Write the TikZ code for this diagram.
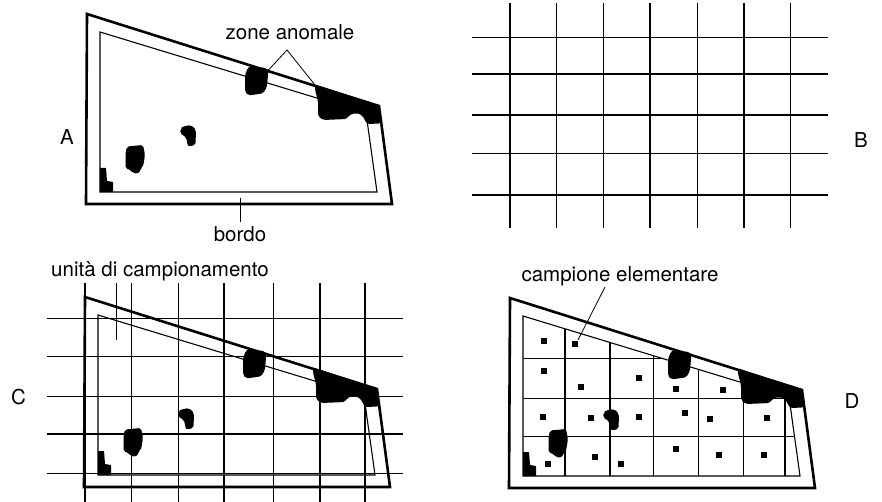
\documentclass[tikz,border=0pt]{standalone}
\usepackage{fontspec}
\setmainfont{TeX Gyre Heros}
\newcommand\drawfieldshape{%
  % outer and inner boundaries
  \draw[outerline] (87,14) -- (379,106) -- (392,204) -- (86,204) -- cycle;
  \draw[innerline] (100,32) -- (366,113) -- (377,192) -- (100,192) -- cycle;
  % anomalous zones
  \fill[blob] (250,66.7) -- (266.7,68) -- (268.3,71) -- (267,86.7) -- (263.3,93.3) -- (248.3,95.5) -- (245,91.7) -- (245,75) -- (248,67.5) -- cycle;
  \fill[blob] (315,84.5) -- (379,105.5) -- (380.5,123.5) -- (367,124) -- (362,115) -- (356,113) -- (349,115) -- (347,119) -- (323,120) -- (318,116) -- (318,101) -- (315,90) -- cycle;
  \fill[blob] (181,128) -- (183,126.5) -- (191,125) -- (196,130) -- (195.5,145) -- (188,146.5) -- (186,137) -- (180,133.5) -- cycle;
  \fill[blob] (127,146.5) -- (143,145) -- (145,155) -- (143,167) -- (140,168.5) -- (140,173) -- (133,173.5) -- (131,170) -- (125.5,168.5) -- (125.5,153) -- cycle;
  \fill[blob,rounded corners=0.5pt] (100,168) -- (106,168) -- (107,181) -- (113,182) -- (113,192) -- (100,192) -- cycle;
}
\begin{document}
\begin{tikzpicture}[x=1pt,y=-1pt,
  outerline/.style={line width=2.6pt,line join=miter},
  innerline/.style={line width=1.1pt},
  gridline/.style={line width=1.4pt},
  blob/.style={fill=black,rounded corners=2pt},
  pointer/.style={line width=0.8pt},
  lbl/.style={font=\fontsize{20.5}{24}\selectfont,inner sep=0pt},
  sq/.style={fill=black}]
\useasboundingbox (0,0) rectangle (882,502);

% ---------------- Panel A ----------------
\drawfieldshape
\node[lbl,anchor=base] (zone) at (290,40) {zone anomale};
\coordinate (zapex) at (287,50);
\coordinate (zleft) at (268.5,70);
\coordinate (zright) at (315,85);
\draw[pointer] (zleft) -- (zapex) -- (zright);
\node[lbl,anchor=base] (bordo) at (240,241.5) {bordo};
\coordinate (bordotop) at (240,198);
\coordinate (bordobot) at (240,222);
\draw[pointer] (bordotop) -- (bordobot);
\node[lbl] (labA) at (67,137) {A};

% ---------------- Panel B ----------------
\foreach \x in {510,556.7,603.3,650,697.7,744,790.7}
  \draw[gridline] (\x,3) -- (\x,228);
\foreach \y in {37.7,74,115,153.3,195}
  \draw[gridline] (471.7,\y) -- (828,\y);
\node[lbl] (labB) at (861,140) {B};

% ---------------- Panel C ----------------
\begin{scope}[shift={(-2,283)}]
  \drawfieldshape
\end{scope}
\foreach \x in {85,131.7,178.3,224,273.3,320,365}
  \draw[gridline] (\x,283) -- (\x,502);
\foreach \y in {318.3,356.7,396.7,434,473.3}
  \draw[gridline] (46.7,\y) -- (403,\y);
\node[lbl,anchor=base] (unita) at (160,276.5) {unità di campionamento};
\coordinate (utop) at (116.7,283);
\coordinate (ubot) at (116.7,340);
\draw[pointer] (utop) -- (ubot);
\node[lbl] (labC) at (18.5,397) {C};

% ---------------- Panel D ----------------
\begin{scope}
  \clip (523,316) -- (789,397) -- (800,476) -- (523,476) -- cycle;
  \foreach \x in {565,610,653.3,698.3,743.3,785}
    \draw[innerline] (\x,300) -- (\x,480);
  \foreach \y in {358.3,398.3,436.5}
    \draw[innerline] (515,\y) -- (810,\y);
\end{scope}
\begin{scope}[shift={(423,284)}]
  \drawfieldshape
\end{scope}
\foreach \x/\y in {544.3/340.7, 575/344.3,
  544.3/371, 581/386.7, 639.3/377.7, 675.7/389.3, 722.7/390,
  543.3/417.3, 590.7/418.3, 639.3/416.7, 685/412.7, 710/419.3, 767.3/417.7,
  547.7/464, 595/456.7, 620.7/464.3, 675.7/449.3, 719.3/455, 764.3/455}
  \fill[sq] (\x-3,\y-3) rectangle ++(6,6);
\node[lbl,anchor=base] (campione) at (620,281.5) {campione elementare};
\coordinate (ctop) at (605,287);
\coordinate (cbot) at (578,340);
\draw[pointer] (ctop) -- (cbot);
\node[lbl] (labD) at (852,401.5) {D};
\end{tikzpicture}
\end{document}
